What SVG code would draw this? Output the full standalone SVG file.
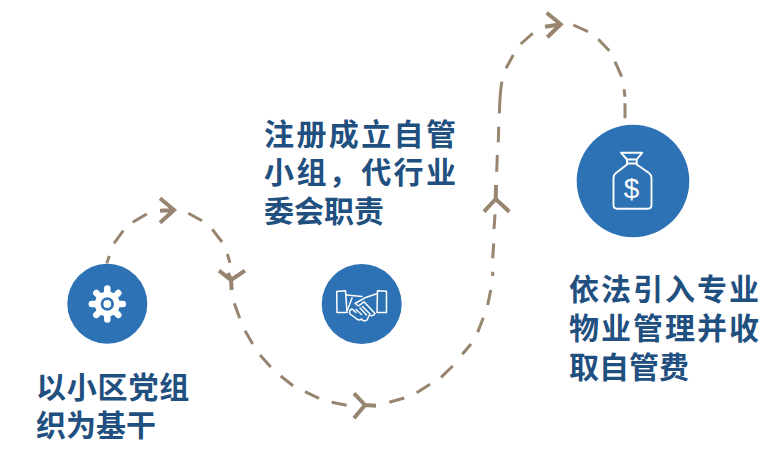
<svg xmlns="http://www.w3.org/2000/svg" width="776" height="456" viewBox="0 0 776 456">
<style>
.dash{fill:none;stroke:#978570;stroke-width:3}
.head{fill:none;stroke:#978570;stroke-width:4}
.disc{fill:#2d72b5}
.ic{fill:none;stroke:#fff;stroke-width:1.5;stroke-linejoin:round;stroke-linecap:round}
.bag{fill:none;stroke:#fff;stroke-width:1.9;stroke-linejoin:round;stroke-linecap:round}
.lbl{font-family:"Liberation Sans","Noto Sans CJK SC",sans-serif;font-size:30px;font-weight:700;fill:#1f5080}
</style>
<rect width="776" height="456" fill="#fff"/>
<g id="connectors">
<path class="dash" d="M106.7 263.3L109.3 256M114 243.3L123.3 230.7M132.7 222.3L146.7 214M188.3 213.3L202 220.7M212.3 229.3L222 242M227.3 254L230 262.7M234.3 303.3L239.7 318.3M245 330.7L252.7 344M260 355L270.7 367M280.7 376L293 385.7M305 391.7L319 398.3M331.7 402.3L346.7 405.3M389.3 402.3L404.3 398M416.7 392.7L430 384.3M441 377.3L452.7 366M462.3 354.3L471 344M477.7 332.3L483.3 317.7M487.7 305L490.7 290M492.7 276L492.7 271.7M492.7 258.3L493.7 243.3M494 229L495 214.3M496.7 171.7L497.3 155M498.3 142.3L498.7 126.7M499.3 113.3C500 100 500 90 502 81.7M506 68.3L513.3 55M520.7 44L532.7 33.3M573.3 25L588 31.7M598.3 39.3L609.3 50.7M615 61.7L621.7 76.7M624 89.3L625 96.7M625 103.3L625 118.3"/>
<path class="head" d="M160 198.3L174 210L160 222.7M160 210.7L174 210M219 270.7L231 280L245 270.7M231 280L231.7 290M228 273L231 280M354 393.3L365 405L354 418.3M365 405L376 405.7M484 211.7L495.7 199L509.3 211.7M495.7 199L496 185M546.7 12.7L560.7 24.3L547.3 37.3M545 26.7L560.7 24.3"/>
</g>
<g id="node-1">
<circle class="disc" cx="107.3" cy="303.7" r="40"/>
<g transform="translate(107.3 304)" stroke="#fff" stroke-width="6.5" stroke-linecap="round">
<path d="M0 -15.5V15.5M-15.5 0H15.5M-11 -11L11 11M-11 11L11 -11"/>
<circle r="12.5" fill="#fff" stroke="none"/>
<circle r="5.3" fill="#fff" stroke="#2d72b5" stroke-width="2.8"/>
</g>
<text class="lbl" x="36" y="398" letter-spacing="0.8">以小区党组</text>
<text class="lbl" x="36" y="436">织为基干</text>
</g>
<g id="node-2">
<circle class="disc" cx="361.7" cy="304" r="40"/>
<path class="ic" d="M336.7 291.5L345.5 290.8L347 312.5L337 312.5ZM377.5 290.8L386.5 291.2L386.5 312.5L377 312.5Z"/>
<path class="ic" d="M346.5 295L362 296.5M355 303.5L365 297.8L377.5 293.5M355 303.5L358.5 306L364 301.8L375 313.5C374 316 371 316 369.5 315M369.5 315L367 320C365 321.5 363 321 361.5 319M361.5 319C359.5 321 357.5 320 355.5 318L350 314C349 312 349.5 310 352 309L354 310.5M347.5 310L352 298M352 309L356 312.5M356 309.5L361.5 314.5M360 308L366.5 315M362.5 306.5L370 314"/>
</g>
<g id="node-3">
<circle class="disc" cx="633" cy="181" r="56.3"/>
<path class="bag" d="M621 152.7H642.3L636.7 159.5H627ZM627 159.5V164.5M636.7 159.5V164.5M627 163.5H636.7M627 164.5L616 173C614 174.5 613.5 176 613.5 178V205C613.5 207.5 615 208.7 617 208.7H648C650 208.7 651.5 207.5 651.5 205V178C651.5 176 651 174.5 649 173L636.7 164.5"/>
<text x="631.5" y="198" text-anchor="middle" font-family="'Liberation Sans',sans-serif" font-size="28" fill="#fff">$</text>
<text class="lbl" x="569" y="300" letter-spacing="2">依法引入专业</text>
<text class="lbl" x="569" y="339" letter-spacing="2">物业管理并收</text>
<text class="lbl" x="569" y="378">取自管费</text>
</g>
<g id="label-2">
<text class="lbl" x="264" y="145" letter-spacing="2.4">注册成立自管</text>
<text class="lbl" x="264" y="183" letter-spacing="2.4">小组，代行业</text>
<text class="lbl" x="264" y="222">委会职责</text>
</g>
</svg>
